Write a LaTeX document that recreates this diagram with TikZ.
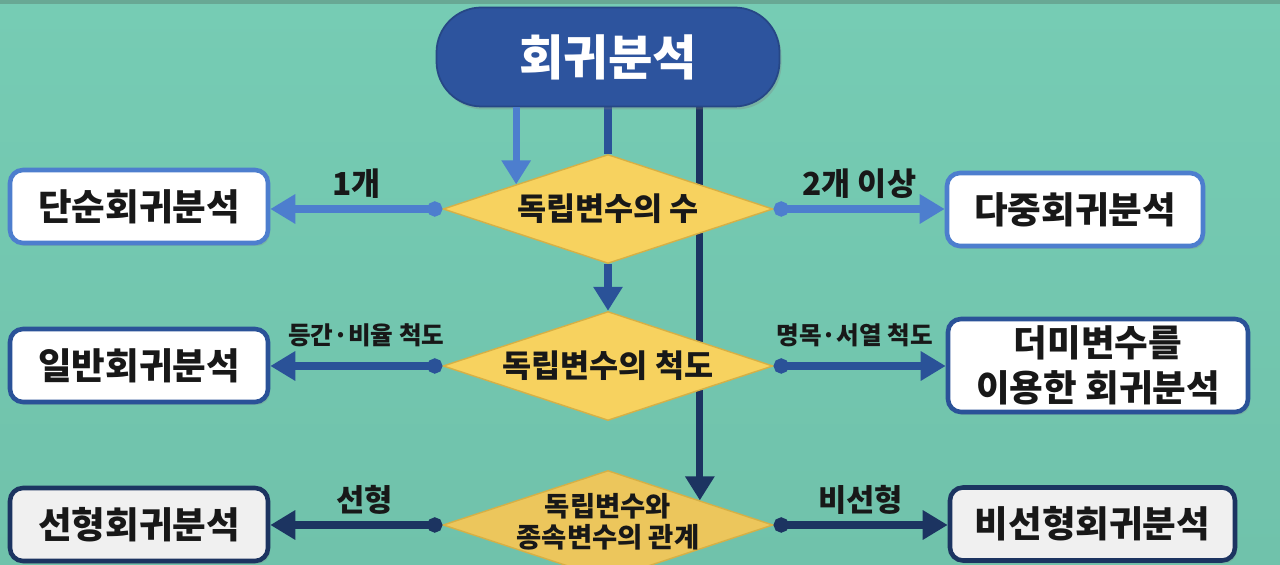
\documentclass[tikz,border=0pt]{standalone}
\usepackage{fontspec}
\setmainfont{Noto Sans CJK KR}
\definecolor{regblue}{RGB}{45,84,158}
\definecolor{rowone}{RGB}{77,126,206}
\definecolor{rowtwo}{RGB}{42,82,152}
\definecolor{rowthree}{RGB}{28,52,97}
\definecolor{decfill}{RGB}{247,210,95}
\definecolor{decfilldark}{RGB}{236,198,92}
\definecolor{decline}{RGB}{214,176,70}
\definecolor{ink}{RGB}{24,24,24}
\definecolor{boxgray}{RGB}{240,240,240}
\definecolor{bgtop}{RGB}{118,204,180}
\definecolor{bgmid}{RGB}{127,215,192}
\definecolor{bgbot}{RGB}{112,194,171}
\definecolor{bgedge}{RGB}{104,168,148}
\usetikzlibrary{arrows.meta,positioning,shapes.geometric,shadows}
\pgfdeclarelayer{bg}
\pgfdeclarelayer{wires}
\pgfsetlayers{bg,wires,main}

\begin{document}
\begin{tikzpicture}[
  pill/.style={draw=regblue!85!black,fill=regblue,line width=1pt,rounded corners=0.9cm,
    minimum width=6.86cm,minimum height=1.98cm,text=white,
    font=\fontsize{27.5}{32}\selectfont\bfseries,
    drop shadow={opacity=0.3,shadow xshift=0.04cm,shadow yshift=-0.06cm}},
  box/.style={draw,line width=2.6pt,fill=white,rounded corners=0.26cm,minimum height=1.46cm,
    align=center,text=ink,font=\fontsize{20.8}{25.6}\selectfont\bfseries,
    drop shadow={opacity=0.25,shadow xshift=0.04cm,shadow yshift=-0.06cm}},
  dec/.style={diamond,shape aspect=3.05,draw=decline,fill=decfill,line width=0.8pt,
    minimum width=6.6cm,minimum height=2.18cm,inner sep=0pt,align=center,text=ink,
    font=\fontsize{18}{20}\selectfont\bfseries},
  lbl/.style={text=ink,inner sep=1pt,font=\fontsize{#1}{#1}\selectfont\bfseries},
  wire/.style={line width=4pt},
  hlink/.style={wire,{Circle[length=0.3cm]}-{Triangle[length=0.5cm,width=0.56cm]}},
  vlink/.style={wire,-{Triangle[length=0.48cm,width=0.56cm]}}
]
  \useasboundingbox (0,0) rectangle (25.6,11.3);
  \clip (0,0) rectangle (25.6,11.3);
  % background
  \begin{pgfonlayer}{bg}
    \shade[top color=bgtop,middle color=bgmid,bottom color=bgbot] (0,0) rectangle (25.6,11.3);
    \fill[bgedge] (0,11.22) rectangle (25.6,11.3);
  \end{pgfonlayer}
  % top
  \node[pill] (reg) at (12.16,10.16) {회귀분석};
  % decisions
  \node[dec] (num) at (12.16,7.12) {독립변수의 수};
  \node[dec] (scl) at (12.16,3.98) {독립변수의 척도};
  \node[dec,fill=decfilldark,
    label={[text=ink,align=center,yshift=0.06cm,
      font=\fontsize{15.6}{17.5}\selectfont\bfseries]center:독립변수와\\종속변수의 관계}]
    (rel) at (12.16,0.8) {};
  % row 1
  \node[box,draw=rowone,minimum width=5.16cm] (simple) at (2.78,7.17) {단순회귀분석};
  \node[box,draw=rowone,minimum width=5.12cm] (multi) at (21.5,7.11) {다중회귀분석};
  % row 2
  \node[box,draw=rowtwo,minimum width=5.16cm] (general) at (2.78,3.99) {일반회귀분석};
  \node[box,draw=rowtwo,minimum width=6.0cm,minimum height=1.86cm] (dummy) at (21.96,3.99)
    {더미변수를\\이용한 회귀분석};
  % row 3
  \node[box,draw=rowthree,fill=boxgray,minimum width=5.16cm] (linear) at (2.78,0.81) {선형회귀분석};
  \node[box,draw=rowthree,fill=boxgray,minimum width=5.7cm] (nonlin) at (21.85,0.82) {비선형회귀분석};
  % lines behind the diamonds
  \begin{pgfonlayer}{wires}
    \draw[wire,rowtwo] (reg.south) -- (num.north);
    \draw[vlink,rowthree] (rel.15 |- reg.south) -- (rel.15);
  \end{pgfonlayer}
  % downward arrows
  \draw[vlink,rowone] (num.165 |- reg.south) -- (num.165);
  \draw[vlink,rowtwo] (num.south) -- (scl.north);
  % branches
  \draw[hlink,rowone] (num.west) -- (num.west -| simple.east)
    node[lbl=18,midway,above=3pt] {1개};
  \draw[hlink,rowone] (num.east) -- (num.east -| multi.west)
    node[lbl=18,midway,above=3pt] {2개 이상};
  \draw[hlink,rowtwo] (scl.west) -- (scl.west -| general.east)
    node[lbl=14,midway,above=8pt,xshift=0.2cm] {등간·비율 척도};
  \draw[hlink,rowtwo] (scl.east) -- (scl.east -| dummy.west)
    node[lbl=14,midway,above=8pt,xshift=-0.1cm] {명목·서열 척도};
  \draw[hlink,rowthree] (rel.west) -- (rel.west -| linear.east)
    node[lbl=17.5,midway,above=3pt,xshift=0.16cm] {선형};
  \draw[hlink,rowthree] (rel.east) -- (rel.east -| nonlin.west)
    node[lbl=17.5,midway,above=3pt] {비선형};
\end{tikzpicture}
\end{document}
